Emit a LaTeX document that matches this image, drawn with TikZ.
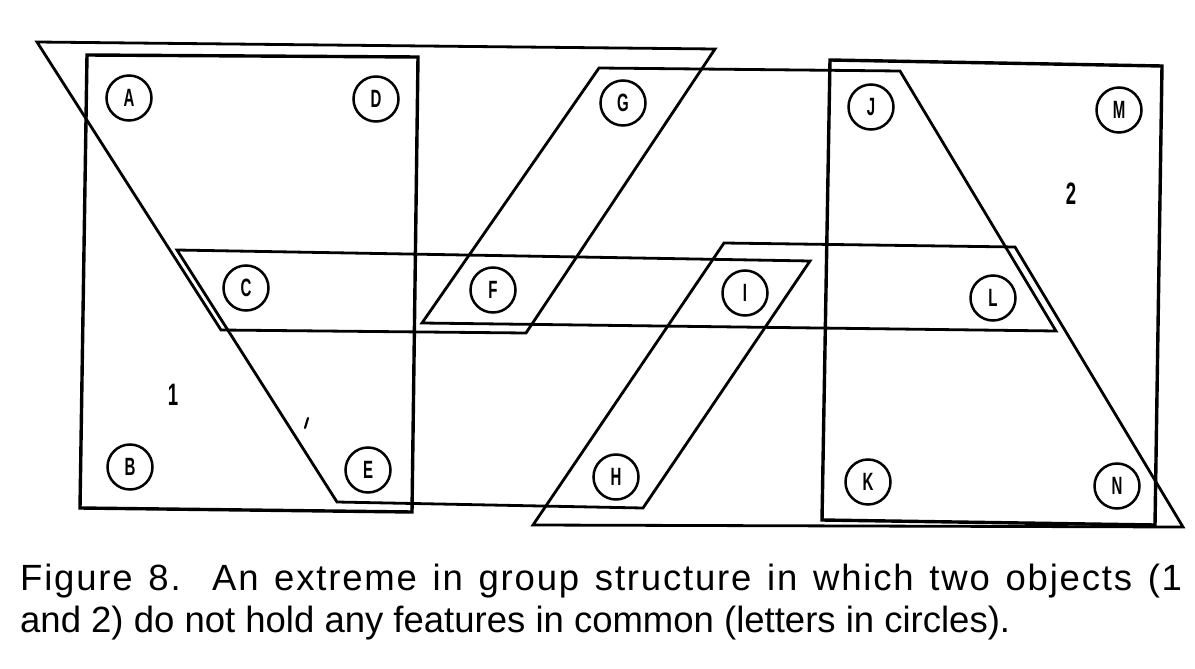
\documentclass[tikz,border=0pt]{standalone}
\usepackage{fontspec}
\setmainfont{Liberation Sans}
\newfontfamily\featfont[FakeStretch=0.6]{Liberation Sans}
\newfontfamily\capwide[LetterSpace=5]{Liberation Sans}
\tikzset{
  feature/.style={circle, draw, line width=2.5pt, minimum size=45pt, inner sep=0pt,
    font=\featfont\bfseries\fontsize{25}{25}\selectfont},
  group/.style={line width=2.8pt},
  object/.style={line width=3.4pt},
  objlabel/.style={font=\featfont\bfseries\fontsize{31}{31}\selectfont},
  caption/.style={anchor=base west, inner sep=0pt, font=\fontsize{36.5}{40}\selectfont}
}
\begin{document}
\begin{tikzpicture}[x=1pt, y=-1pt]
  \useasboundingbox (0,0) rectangle (1195,669);

  % Features (letters in circles)
  \node[feature] (A) at (129,98) {A};
  \node[feature] (D) at (376,99) {D};
  \node[feature] (G) at (623,103) {G};
  \node[feature] (J) at (871,107) {J};
  \node[feature] (M) at (1119,110) {M};
  \node[feature] (C) at (246,288) {C};
  \node[feature] (F) at (493,290) {F};
  \node[feature] (I) at (745,293) {I};
  \node[feature] (L) at (993,298) {L};
  \node[feature] (B) at (130,467) {B};
  \node[feature] (E) at (368,470) {E};
  \node[feature] (H) at (616,477) {H};
  \node[feature] (K) at (868,482) {K};
  \node[feature] (N) at (1117,486) {N};

  % Objects 1 and 2
  \draw[object] (87,55) -- (418,57) -- (412,512) -- (80,508) -- cycle;
  \draw[object] (830,60) -- (1162,66) -- (1155,525) -- (822,520) -- cycle;
  \node[objlabel] (one) at (173,395) {1};
  \node[objlabel] (two) at (1071,194) {2};

  % Groups across the objects
  \draw[group] (37,42) -- (715,49) -- (526,333) -- (221,330) -- cycle;
  \draw[group] (177,250) -- (810,261) -- (643,508) -- (337,502) -- cycle;
  \draw[group] (599,68) -- (900,71) -- (1056,331) -- (422,323) -- cycle;
  \draw[group] (724,243) -- (1015,247) -- (1183,527) -- (533,525) -- cycle;

  % stray mark
  \draw[line width=2.2pt, line cap=round] (308,418) -- (305,428);

  % Caption (first line set full width)
  \node[caption] (cap1) at (20,590) {\capwide\hbox to 1162pt{Figure 8.\ \ An extreme in group structure in which two objects (1}};
  \node[caption] (cap2) at (20,632) {and 2) do not hold any features in common (letters in circles).};
\end{tikzpicture}
\end{document}
